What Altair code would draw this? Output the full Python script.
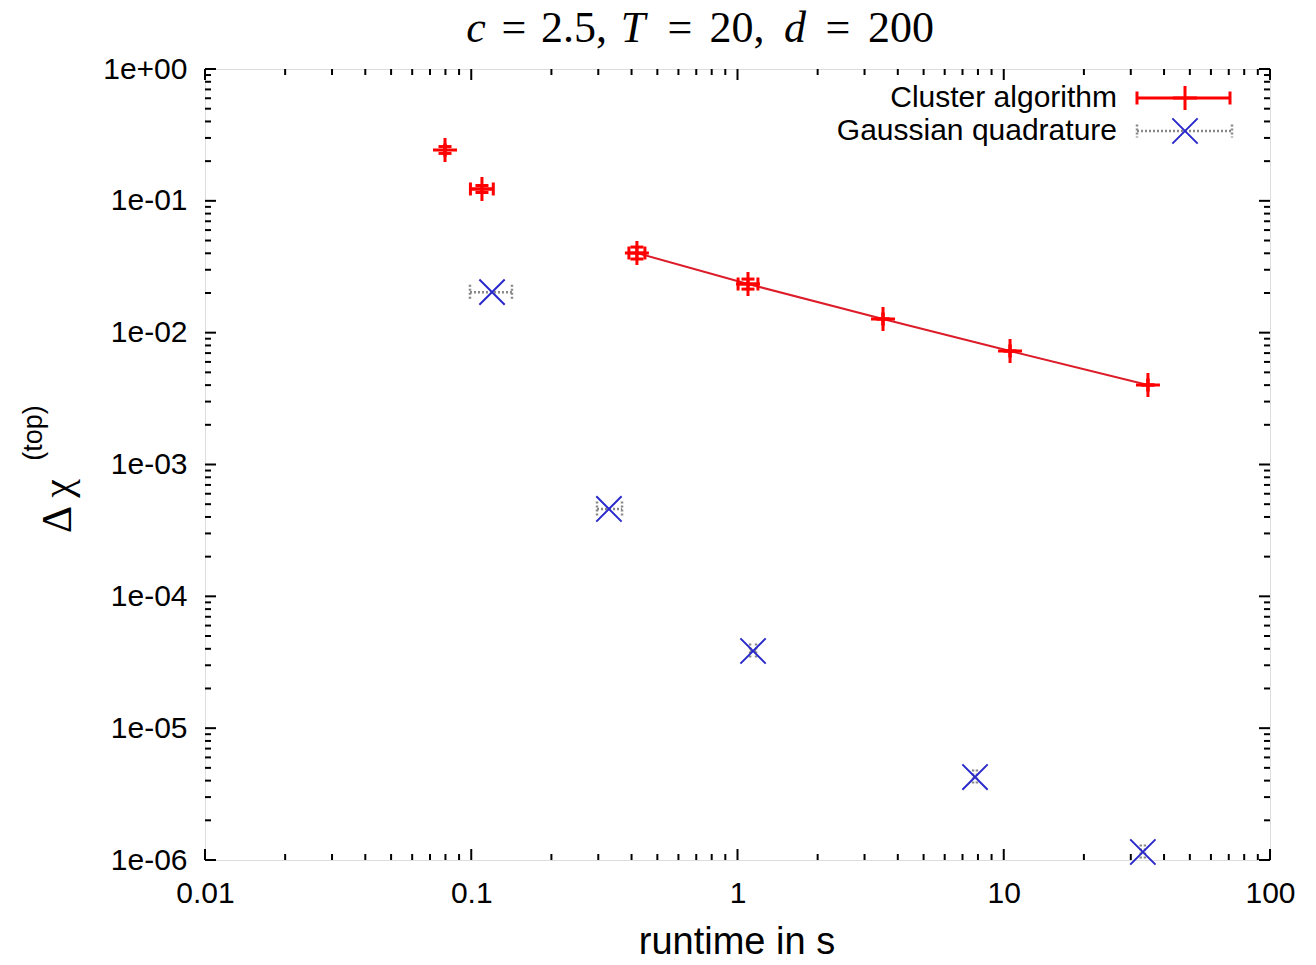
import altair as alt
import pandas as pd

W, H = 1065, 791

# ---- data ----
cl_x   = [0.0797, 0.1097, 0.419, 1.095, 3.52, 10.56, 34.8]
cl_y   = [0.243, 0.123, 0.0402, 0.0234, 0.0127, 0.00726, 0.00401]
cl_xlo = [0.0797, 0.0993, 0.391, 1.005, 3.52, 10.56, 34.8]
cl_xhi = [0.0797, 0.121, 0.449, 1.193, 3.52, 10.56, 34.8]
cl_ylo = [0.229, 0.1157, 0.0362, 0.0214, 0.0127, 0.00726, 0.00401]
cl_yhi = [0.258, 0.1307, 0.0446, 0.0255, 0.0127, 0.00726, 0.00401]
cl_line = [False, False, True, True, True, True, True]

g_x   = [0.1197, 0.329, 1.144, 7.80, 33.3]
g_y   = [0.0203, 4.6e-4, 3.85e-5, 4.26e-6, 1.15e-6]
g_xlo = [0.0989, 0.2967, 1.115, 7.67, 32.7]
g_xhi = [0.1422, 0.3684, 1.174, 7.93, 33.9]

x_ticks = [0.01, 0.1, 1, 10, 100]
y_ticks = [1e-6, 1e-5, 1e-4, 1e-3, 1e-2, 1e-1, 1]
minor_mult = [2, 3, 4, 5, 6, 7, 8, 9]

legend_names = ["Cluster algorithm", "Gaussian quadrature"]

# title pieces: (text, italic)
title_parts = [("c", True), ("=", False), ("2.5,", False), ("T", True), ("=", False),
               ("20,", False), ("d", True), ("=", False), ("200", False)]
# layout only: centre positions of the title pieces in plot pixels
title_pos = [271, 309, 369, 428, 475, 532, 590, 633, 696]

RED = "#ff0000"
LINE_RED = "#dd1c2a"
BLUE = "#2a2acc"
GRAY = "#888888"
FONT = "Liberation Sans"
SERIF = "Liberation Serif"

cl = pd.DataFrame(dict(x=cl_x, y=cl_y, xlo=cl_xlo, xhi=cl_xhi, ylo=cl_ylo, yhi=cl_yhi, ln=cl_line))
g = pd.DataFrame(dict(x=g_x, y=g_y, xlo=g_xlo, xhi=g_xhi))

x_minor = [m * d for d in x_ticks[:-1] for m in minor_mult]
y_minor = [m * d for d in y_ticks[:-1] for m in minor_mult]

xs = alt.Scale(type="log", domain=[0.01, 100], nice=False)
ys = alt.Scale(type="log", domain=[1e-6, 1], nice=False)

x_axis = alt.Axis(values=x_ticks, format=".2~f", title=None, ticks=False, domain=False,
                  grid=False, labelFont=FONT, labelFontSize=30, labelPadding=18,
                  labelColor="black", labelFlush=False)
y_axis = alt.Axis(values=y_ticks, title=None, ticks=False, domain=False, grid=False,
                  labelExpr="'1e' + (datum.value >= 0.99 ? '+00' : '-0' + round(-log(datum.value)/LN10))",
                  labelFont=FONT, labelFontSize=30, labelPadding=18, labelColor="black",
                  labelFlush=False)


def X(f):
    return alt.X(f, type="quantitative", scale=xs, axis=x_axis)


def Y(f):
    return alt.Y(f, type="quantitative", scale=ys, axis=y_axis)


MAJ, MIN = 11, 6
layers = []

xt = pd.DataFrame({"v": x_ticks})
xm = pd.DataFrame({"v": x_minor})
yt = pd.DataFrame({"v": y_ticks})
ym = pd.DataFrame({"v": y_minor})

for df, ln in [(xt, MAJ), (xm, MIN)]:
    layers.append(alt.Chart(df).mark_rule(color="black", strokeWidth=2).encode(
        x=X("v"), y=alt.value(H), y2=alt.value(H - ln)))
    layers.append(alt.Chart(df).mark_rule(color="black", strokeWidth=2).encode(
        x=X("v"), y=alt.value(0), y2=alt.value(ln)))
for df, ln in [(yt, MAJ), (ym, MIN)]:
    layers.append(alt.Chart(df).mark_rule(color="black", strokeWidth=2).encode(
        y=Y("v"), x=alt.value(0), x2=alt.value(ln)))
    layers.append(alt.Chart(df).mark_rule(color="black", strokeWidth=2).encode(
        y=Y("v"), x=alt.value(W), x2=alt.value(W - ln)))

PLUS = "M-1,0H1M0,-1V1"
CROSS = "M-1,-1L1,1M-1,1L1,-1"
VCAP = "M0,-1V1"
HCAP = "M-1,0H1"

# Gaussian quadrature
layers.append(alt.Chart(g).mark_rule(color=GRAY, strokeWidth=2.5, strokeDash=[2, 2]).encode(
    x=X("xlo"), x2=alt.X2("xhi"), y=Y("y")))
for c in ["xlo", "xhi"]:
    layers.append(alt.Chart(g).mark_point(shape=VCAP, size=225, color=GRAY, strokeWidth=2.5,
                                          strokeDash=[2, 2], opacity=1).encode(x=X(c), y=Y("y")))
layers.append(alt.Chart(g).mark_point(shape=CROSS, size=640, color=BLUE, strokeWidth=2,
                                      opacity=1).encode(x=X("x"), y=Y("y")))

# Cluster algorithm
layers.append(alt.Chart(cl[cl.ln]).mark_line(color=LINE_RED, strokeWidth=2).encode(
    x=X("x"), y=Y("y")))
layers.append(alt.Chart(cl).mark_rule(color=RED, strokeWidth=3).encode(
    x=X("xlo"), x2=alt.X2("xhi"), y=Y("y")))
layers.append(alt.Chart(cl).mark_rule(color=RED, strokeWidth=3).encode(
    x=X("x"), y=Y("ylo"), y2=alt.Y2("yhi")))
for c in ["xlo", "xhi"]:
    layers.append(alt.Chart(cl).mark_point(shape=VCAP, size=169, color=RED, strokeWidth=3,
                                           opacity=1).encode(x=X(c), y=Y("y")))
for c in ["ylo", "yhi"]:
    layers.append(alt.Chart(cl).mark_point(shape=HCAP, size=169, color=RED, strokeWidth=3,
                                           opacity=1).encode(x=X("x"), y=Y(c)))
layers.append(alt.Chart(cl).mark_point(shape=PLUS, size=576, color=RED, strokeWidth=3,
                                       opacity=1).encode(x=X("x"), y=Y("y")))

# ---- legend (manual) ----
one = pd.DataFrame({"a": [0]})
LEG_Y = [29, 62]
for name, yy in zip(legend_names, LEG_Y):
    layers.append(alt.Chart(one).mark_text(align="right", baseline="middle", font=FONT,
                                           fontSize=30, color="black").encode(
        text=alt.value(name), x=alt.value(912), y=alt.value(yy)))
layers.append(alt.Chart(one).mark_rule(color=RED, strokeWidth=3).encode(
    x=alt.value(932), x2=alt.value(1025), y=alt.value(LEG_Y[0])))
for xv in [932, 1025]:
    layers.append(alt.Chart(one).mark_point(shape=VCAP, size=169, color=RED, strokeWidth=3,
                                            opacity=1).encode(x=alt.value(xv), y=alt.value(LEG_Y[0])))
layers.append(alt.Chart(one).mark_point(shape=PLUS, size=576, color=RED, strokeWidth=3,
                                        opacity=1).encode(x=alt.value(980), y=alt.value(LEG_Y[0])))
layers.append(alt.Chart(one).mark_rule(color=GRAY, strokeWidth=2.5, strokeDash=[2, 2]).encode(
    x=alt.value(932), x2=alt.value(1027), y=alt.value(LEG_Y[1])))
for xv in [932, 1027]:
    layers.append(alt.Chart(one).mark_point(shape=VCAP, size=169, color=GRAY, strokeWidth=2.5,
                                            strokeDash=[2, 2], opacity=1).encode(
        x=alt.value(xv), y=alt.value(LEG_Y[1])))
layers.append(alt.Chart(one).mark_point(shape=CROSS, size=640, color=BLUE, strokeWidth=2,
                                        opacity=1).encode(x=alt.value(980), y=alt.value(LEG_Y[1])))

# ---- titles ----
for (txt, it), px in zip(title_parts, title_pos):
    layers.append(alt.Chart(one).mark_text(font=SERIF, fontSize=44, color="black",
                                           fontStyle="italic" if it else "normal",
                                           align="center", baseline="alphabetic").encode(
        text=alt.value(txt), x=alt.value(px), y=alt.value(-27)))
layers.append(alt.Chart(one).mark_text(font=FONT, fontSize=38, color="black",
                                       align="center", baseline="middle").encode(
    text=alt.value("runtime in s"), x=alt.value(532), y=alt.value(874)))
layers.append(alt.Chart(one).mark_text(font=SERIF, fontSize=42, color="black", angle=270,
                                       align="center", baseline="middle").encode(
    text=alt.value("Δ χ"), x=alt.value(-147), y=alt.value(437)))
layers.append(alt.Chart(one).mark_text(font=FONT, fontSize=27, color="black", angle=270,
                                       align="center", baseline="middle").encode(
    text=alt.value("(top)"), x=alt.value(-171), y=alt.value(364)))

chart = alt.layer(*layers).properties(
    width=W, height=H,
    autosize=alt.AutoSizeParams(type="none"),
    padding={"left": 197, "top": 61, "right": 30, "bottom": 110},
).configure_view(stroke="black", strokeWidth=2).configure(background="white")

chart.save("out.html", embed_options={"renderer": "svg", "actions": False})
